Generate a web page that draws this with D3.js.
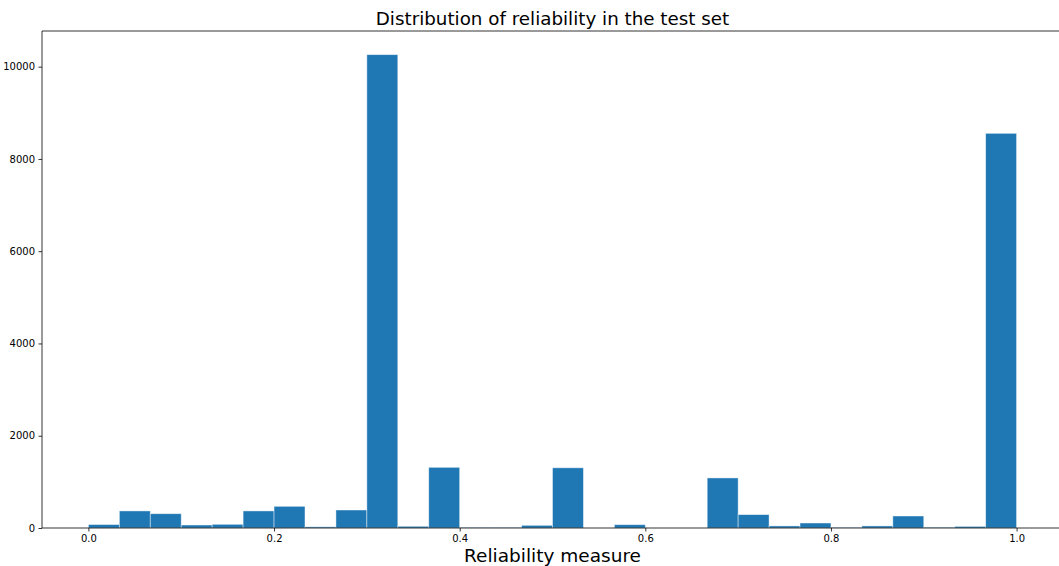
<!DOCTYPE html>
<html>
<head>
<meta charset="utf-8">
<script src="https://cdn.jsdelivr.net/npm/d3@7"></script>
<style>
  html, body { margin: 0; padding: 0; background: #fff; overflow: hidden; }
  svg { display: block; font-family: "DejaVu Sans", sans-serif; }
</style>
</head>
<body>
<svg id="chart" width="1059" height="566"></svg>
<script>
// Histogram of reliability scores: 30 equal-width bins over [0, 1]
const binStart = 0;
const binEnd = 1;
const binCount = 30;
const counts = [
  75, 370, 310, 65, 80, 370, 470, 25, 390, 10260,
  37, 1315, 12, 12, 58, 1305, 0, 72, 0, 0,
  1085, 290, 45, 108, 12, 45, 260, 15, 35, 8555
];
const xTicks = [0.0, 0.2, 0.4, 0.6, 0.8, 1.0];
const yTicks = [0, 2000, 4000, 6000, 8000, 10000];
const titleText = "Distribution of reliability in the test set";
const xLabelText = "Reliability measure";

const bins = counts.map((c, i) => ({
  x0: binStart + (binEnd - binStart) * i / binCount,
  x1: binStart + (binEnd - binStart) * (i + 1) / binCount,
  count: c
}));

const svg = d3.select("#chart");
const plot = { left: 42, right: 1063, top: 31, bottom: 528 };

// 5% padding on both axes, like the default plotting margins
const span = binEnd - binStart;
const x = d3.scaleLinear()
  .domain([binStart - 0.05 * span, binEnd + 0.05 * span])
  .range([plot.left, plot.right]);
const yMax = d3.max(counts) * 1.05;
const y = d3.scaleLinear().domain([0, yMax]).range([plot.bottom, plot.top]);

// bars
svg.append("g")
  .selectAll("rect")
  .data(bins)
  .join("rect")
  .attr("x", d => x(d.x0))
  .attr("width", d => x(d.x1) - x(d.x0))
  .attr("y", d => y(d.count))
  .attr("height", d => y(0) - y(d.count))
  .attr("fill", "#1f77b4")
  .attr("stroke", "#ffffff")
  .attr("stroke-opacity", 0.55)
  .attr("stroke-width", 0.8);

// axes
const xAxis = d3.axisBottom(x)
  .tickValues(xTicks)
  .tickFormat(d3.format(".1f"))
  .tickSize(3.5)
  .tickPadding(3.5);
const yAxis = d3.axisLeft(y)
  .tickValues(yTicks)
  .tickFormat(d3.format("d"))
  .tickSize(3.5)
  .tickPadding(3.5);

const gx = svg.append("g").attr("transform", `translate(0,${plot.bottom})`).call(xAxis);
const gy = svg.append("g").attr("transform", `translate(${plot.left},0)`).call(yAxis);
[gx, gy].forEach(g => {
  g.select(".domain").remove();
  g.selectAll(".tick line").attr("stroke", "#000").attr("stroke-width", 0.8);
  g.selectAll(".tick text")
    .attr("font-family", "DejaVu Sans, sans-serif")
    .attr("font-size", 10)
    .attr("fill", "#000");
});

// frame
const frame = svg.append("g")
  .attr("fill", "none")
  .attr("stroke", "#000")
  .attr("stroke-width", 0.8);
frame.append("line").attr("x1", plot.left).attr("x2", plot.left).attr("y1", plot.top).attr("y2", plot.bottom);
frame.append("line").attr("x1", plot.left).attr("x2", plot.right).attr("y1", plot.bottom).attr("y2", plot.bottom);
frame.append("line").attr("x1", plot.left).attr("x2", plot.right).attr("y1", plot.top).attr("y2", plot.top);
frame.append("line").attr("x1", plot.right).attr("x2", plot.right).attr("y1", plot.top).attr("y2", plot.bottom);

// title and axis label
svg.append("text")
  .attr("x", (plot.left + plot.right) / 2)
  .attr("y", 25)
  .attr("text-anchor", "middle")
  .attr("font-size", 18.3)
  .attr("fill", "#000")
  .text(titleText);

svg.append("text")
  .attr("x", (plot.left + plot.right) / 2)
  .attr("y", 562)
  .attr("text-anchor", "middle")
  .attr("font-size", 18.5)
  .attr("fill", "#000")
  .text(xLabelText);
</script>
</body>
</html>
